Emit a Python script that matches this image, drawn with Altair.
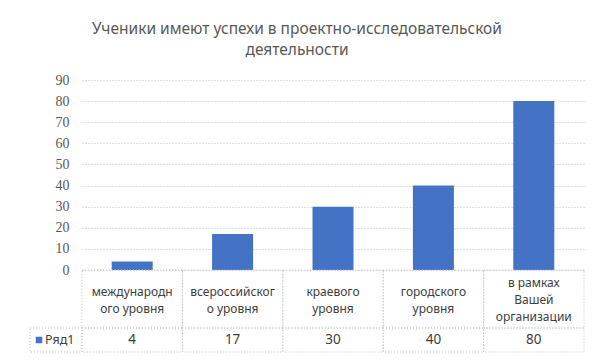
import altair as alt
import pandas as pd

# ---- data ----
categories = [
    "международн\nого уровня",
    "всероссийског\nо уровня",
    "краевого\nуровня",
    "городского\nуровня",
    "в рамках\nВашей\nорганизации",
]
values = [4, 17, 30, 40, 80]
series_name = "Ряд1"
y_ticks = [0, 10, 20, 30, 40, 50, 60, 70, 80, 90]
title_lines = ["Ученики имеют успехи в проектно-исследовательской", "деятельности"]

df = pd.DataFrame({"cat": categories, "value": values, "series": series_name})
legend_df = pd.DataFrame({"series": [series_name]})

BLUE = "#4472C4"
GRID = "#bfbfbf"
TXT = "#404040"
FONT = "Noto Sans"
W = 502
LH = 17

x_enc = alt.X("cat:N", sort=categories, axis=None,
              scale=alt.Scale(paddingInner=0, paddingOuter=0))

bars = alt.Chart(df).mark_bar(size=41, color=BLUE).encode(
    x=x_enc,
    y=alt.Y("value:Q", scale=alt.Scale(domain=[0, 90], nice=False),
            axis=alt.Axis(values=y_ticks, grid=True, gridDash=[1, 2], gridColor=GRID,
                          domain=False, ticks=False, labelFont="Liberation Serif",
                          labelFontSize=14, labelColor="#595959", labelPadding=13,
                          title=None)),
).properties(width=W, height=190)

cells_top = alt.Chart(df).mark_rect(fill="white", fillOpacity=0, stroke=GRID,
                                    strokeDash=[1, 2], strokeWidth=1).encode(x=x_enc)


def label_layer(nlines):
    return alt.Chart(df).transform_calculate(
        n="length(split(datum.cat, '\\n'))"
    ).transform_filter(f"datum.n == {nlines}").mark_text(
        lineBreak="\n", fontSize=12, font=FONT, color=TXT, lineHeight=LH,
        baseline="middle", dy=-(nlines - 1) * LH / 2 + 1,
    ).encode(x=x_enc, text="cat:N")


label_row = alt.layer(cells_top, label_layer(2), label_layer(3)).properties(
    width=W, height=58)

cells_bot = alt.Chart(df).mark_rect(fill="white", fillOpacity=0, stroke=GRID,
                                    strokeDash=[1, 2], strokeWidth=1).encode(x=x_enc)
vals_bot = alt.Chart(df).mark_text(fontSize=13.5, font=FONT, color=TXT,
                                   baseline="middle").encode(x=x_enc, text="value:Q")
left_cell = alt.Chart(legend_df).mark_rect(fill="white", fillOpacity=0, stroke=GRID,
                                           strokeDash=[1, 2], strokeWidth=1).encode(
    x=alt.value(-52), x2=alt.value(0), y=alt.value(0), y2=alt.value(24))
leg_sq = alt.Chart(legend_df).mark_square(size=42, color=BLUE, opacity=1).encode(
    x=alt.value(-43), y=alt.value(12))
leg_txt = alt.Chart(legend_df).mark_text(align="left", baseline="middle", fontSize=12.5,
                                         font=FONT, color=TXT).encode(
    x=alt.value(-37), y=alt.value(12), text="series:N")
value_row = alt.layer(cells_bot, vals_bot, left_cell, leg_sq, leg_txt).properties(
    width=W, height=24)

chart = alt.vconcat(bars, label_row, value_row, spacing=0, bounds="flush").properties(
    title=alt.TitleParams(title_lines, fontSize=15.5, font=FONT, color="#595959",
                          fontWeight="normal", anchor="middle", offset=15,
                          lineHeight=21, dx=-10),
    padding={"left": 21, "top": 13, "right": 5, "bottom": 5},
).configure_view(stroke=None)

chart.save("out.html", embed_options={"renderer": "svg", "actions": False})
